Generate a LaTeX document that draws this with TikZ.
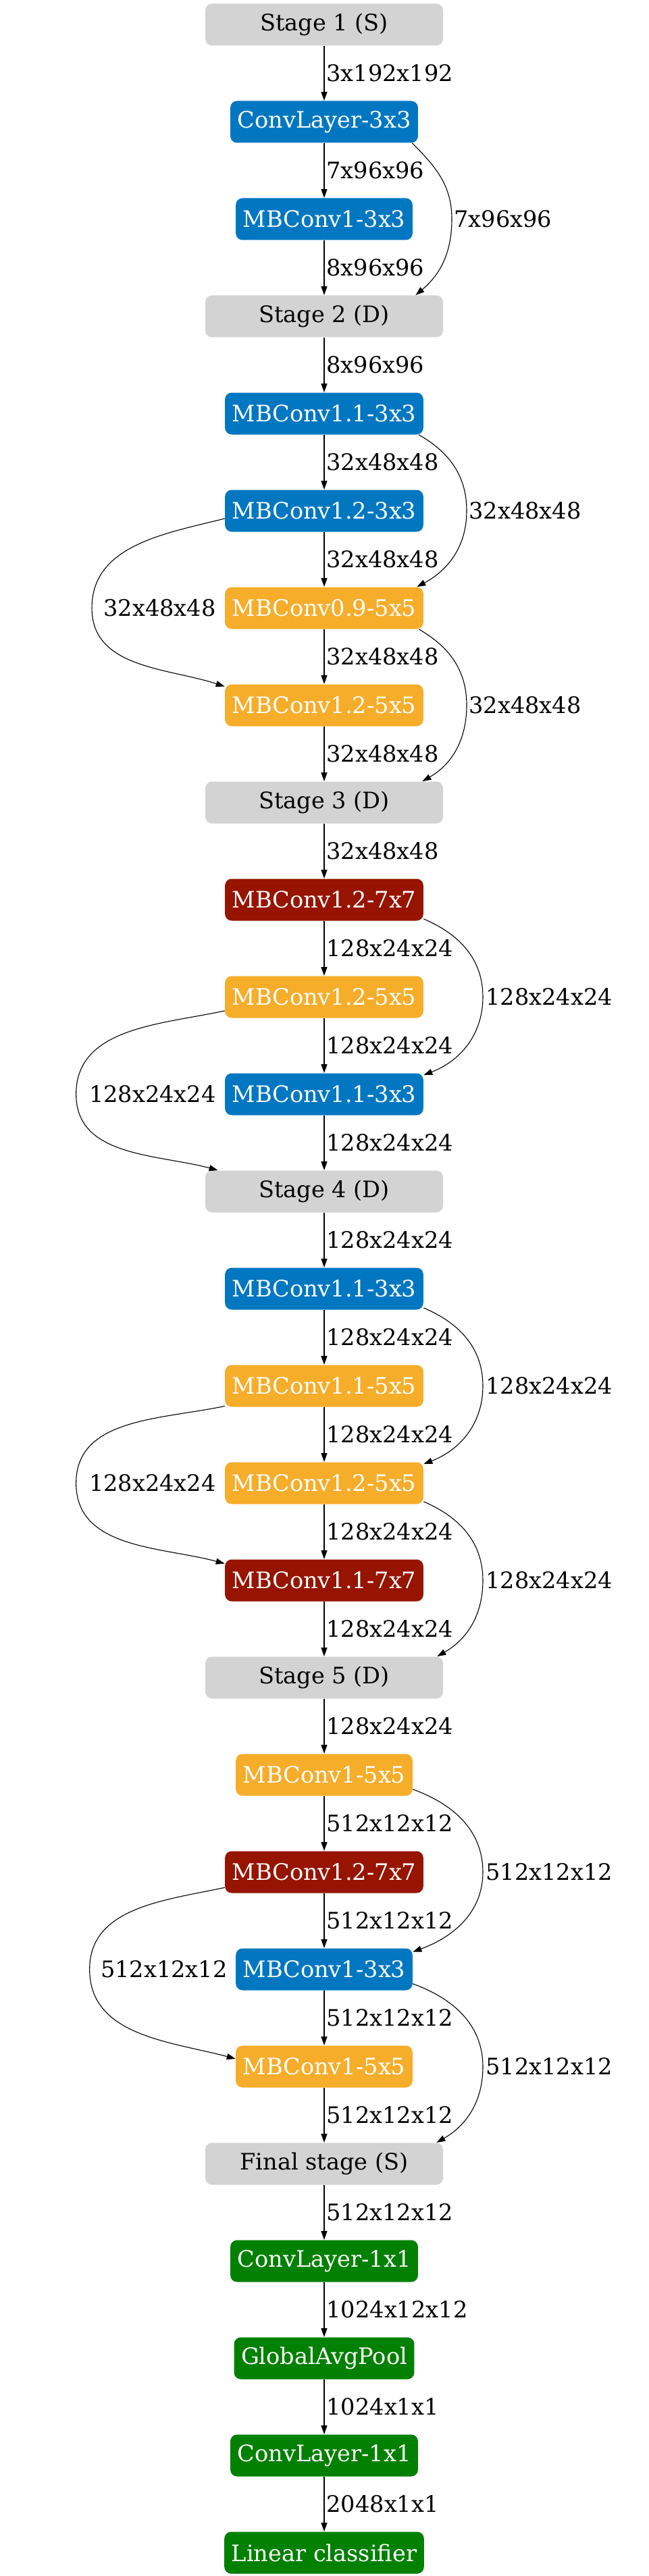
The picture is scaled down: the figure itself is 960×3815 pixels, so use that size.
\documentclass[tikz,border=0pt]{standalone}
\usepackage{fontspec}
\setmainfont{DejaVu Serif}
\usetikzlibrary{arrows.meta}
\definecolor{cblue}{HTML}{0277C1}
\definecolor{corange}{HTML}{F6AD2A}
\definecolor{cred}{HTML}{961400}
\definecolor{cgreen}{HTML}{028002}
\definecolor{cgray}{HTML}{D3D3D3}
\begin{document}
\begin{tikzpicture}[x=0.5pt,y=0.5pt,
  every node/.style={font=\fontsize{16.8pt}{20pt}\selectfont},
  box/.style={rounded corners=5pt, minimum height=31pt, inner xsep=5.25pt, inner ysep=0pt, text=white},
  stagebox/.style={box, fill=cgray, text=black, minimum width=176pt},
  bluebox/.style={box, fill=cblue},
  orangebox/.style={box, fill=corange},
  redbox/.style={box, fill=cred},
  greenbox/.style={box, fill=cgreen},
  arr/.style={-{Triangle[length=6.5pt,width=4.5pt]}, line width=0.55pt},
  vl/.style={midway, right, inner sep=0pt, xshift=1.5pt},
  lbl/.style={inner sep=0pt}]
\useasboundingbox (0,0) rectangle (960,-3815);

\node[stagebox] (n0) at (480,-36.5) {Stage 1 (S)};
\node[bluebox] (n1) at (480,-180.5) {ConvLayer-3x3};
\node[bluebox] (n2) at (480,-324.5) {MBConv1-3x3};
\node[stagebox] (n3) at (480,-468.5) {Stage 2 (D)};
\node[bluebox] (n4) at (480,-612.5) {MBConv1.1-3x3};
\node[bluebox] (n5) at (480,-756.5) {MBConv1.2-3x3};
\node[orangebox] (n6) at (480,-900.5) {MBConv0.9-5x5};
\node[orangebox] (n7) at (480,-1044.5) {MBConv1.2-5x5};
\node[stagebox] (n8) at (480,-1188.5) {Stage 3 (D)};
\node[redbox] (n9) at (480,-1332.5) {MBConv1.2-7x7};
\node[orangebox] (n10) at (480,-1476.5) {MBConv1.2-5x5};
\node[bluebox] (n11) at (480,-1620.5) {MBConv1.1-3x3};
\node[stagebox] (n12) at (480,-1764.5) {Stage 4 (D)};
\node[bluebox] (n13) at (480,-1908.5) {MBConv1.1-3x3};
\node[orangebox] (n14) at (480,-2052.5) {MBConv1.1-5x5};
\node[orangebox] (n15) at (480,-2196.5) {MBConv1.2-5x5};
\node[redbox] (n16) at (480,-2340.5) {MBConv1.1-7x7};
\node[stagebox] (n17) at (480,-2484.5) {Stage 5 (D)};
\node[orangebox] (n18) at (480,-2628.5) {MBConv1-5x5};
\node[redbox] (n19) at (480,-2772.5) {MBConv1.2-7x7};
\node[bluebox] (n20) at (480,-2916.5) {MBConv1-3x3};
\node[orangebox] (n21) at (480,-3060.5) {MBConv1-5x5};
\node[stagebox] (n22) at (480,-3204.5) {Final stage (S)};
\node[greenbox] (n23) at (480,-3348.5) {ConvLayer-1x1};
\node[greenbox] (n24) at (480,-3492.5) {GlobalAvgPool};
\node[greenbox] (n25) at (480,-3636.5) {ConvLayer-1x1};
\node[greenbox] (n26) at (480,-3780.5) {Linear classifier};

% straight edges
\draw[arr] (n0) -- node[vl]{3x192x192} (n1);
\draw[arr] (n1) -- node[vl]{7x96x96} (n2);
\draw[arr] (n2) -- node[vl]{8x96x96} (n3);
\draw[arr] (n3) -- node[vl]{8x96x96} (n4);
\draw[arr] (n4) -- node[vl]{32x48x48} (n5);
\draw[arr] (n5) -- node[vl]{32x48x48} (n6);
\draw[arr] (n6) -- node[vl]{32x48x48} (n7);
\draw[arr] (n7) -- node[vl]{32x48x48} (n8);
\draw[arr] (n8) -- node[vl]{32x48x48} (n9);
\draw[arr] (n9) -- node[vl]{128x24x24} (n10);
\draw[arr] (n10) -- node[vl]{128x24x24} (n11);
\draw[arr] (n11) -- node[vl]{128x24x24} (n12);
\draw[arr] (n12) -- node[vl]{128x24x24} (n13);
\draw[arr] (n13) -- node[vl]{128x24x24} (n14);
\draw[arr] (n14) -- node[vl]{128x24x24} (n15);
\draw[arr] (n15) -- node[vl]{128x24x24} (n16);
\draw[arr] (n16) -- node[vl]{128x24x24} (n17);
\draw[arr] (n17) -- node[vl]{128x24x24} (n18);
\draw[arr] (n18) -- node[vl]{512x12x12} (n19);
\draw[arr] (n19) -- node[vl]{512x12x12} (n20);
\draw[arr] (n20) -- node[vl]{512x12x12} (n21);
\draw[arr] (n21) -- node[vl]{512x12x12} (n22);
\draw[arr] (n22) -- node[vl]{512x12x12} (n23);
\draw[arr] (n23) -- node[vl]{1024x12x12} (n24);
\draw[arr] (n24) -- node[vl]{1024x1x1} (n25);
\draw[arr] (n25) -- node[vl]{2048x1x1} (n26);

% right skip labels
\node[lbl, anchor=west] (r13) at (672,-324.5) {7x96x96};
\node[lbl, anchor=west] (r46) at (694,-756.5) {32x48x48};
\node[lbl, anchor=west] (r68) at (694,-1044.5) {32x48x48};
\node[lbl, anchor=west] (r911) at (719,-1476.5) {128x24x24};
\node[lbl, anchor=west] (r1315) at (719,-2052.5) {128x24x24};
\node[lbl, anchor=west] (r1517) at (719,-2340.5) {128x24x24};
\node[lbl, anchor=west] (r1820) at (719,-2772.5) {512x12x12};
\node[lbl, anchor=west] (r2022) at (719,-3060.5) {512x12x12};

% left skip labels
\node[lbl, anchor=east] (l57) at (320,-900.5) {32x48x48};
\node[lbl, anchor=east] (l1012) at (320,-1620.5) {128x24x24};
\node[lbl, anchor=east] (l1416) at (320,-2196.5) {128x24x24};
\node[lbl, anchor=east] (l1921) at (337,-2916.5) {512x12x12};

% right skip edges
\draw[arr] ([xshift=-4.5pt]n1.south east) to[out=-45,in=90] ([xshift=-1.5pt]r13.west) to[out=-90,in=40] ([xshift=-20.5pt]n3.north east);
\draw[arr] ([xshift=-3.5pt]n4.south east) to[out=-30,in=90] ([xshift=-1.5pt]r46.west) to[out=-90,in=28] ([xshift=-5pt]n6.north east);
\draw[arr] ([xshift=-3.5pt]n6.south east) to[out=-30,in=90] ([xshift=-1.5pt]r68.west) to[out=-90,in=30] ([xshift=-15.5pt]n8.north east);
\draw[arr] ([yshift=1.5pt]n9.south east) to[out=-23,in=90] ([xshift=-2pt]r911.west) to[out=-90,in=21] ([yshift=-1.5pt]n11.north east);
\draw[arr] ([yshift=1.5pt]n13.south east) to[out=-23,in=90] ([xshift=-2pt]r1315.west) to[out=-90,in=21] ([yshift=-1.5pt]n15.north east);
\draw[arr] ([yshift=2pt]n15.south east) to[out=-23,in=90] ([xshift=-2pt]r1517.west) to[out=-90,in=30] ([xshift=-4.5pt]n17.north east);
\draw[arr] ([yshift=5pt]n18.south east) to[out=-20,in=90] ([xshift=-2pt]r1820.west) to[out=-90,in=20] ([yshift=-2.75pt]n20.north east);
\draw[arr] ([yshift=5pt]n20.south east) to[out=-20,in=90] ([xshift=-2pt]r2022.west) to[out=-90,in=30] ([xshift=-5pt]n22.north east);

% left skip edges
\draw[arr] ([yshift=-5.75pt]n5.west) to[out=194,in=90] ([xshift=-8.5pt]l57.west) to[out=-90,in=162] ([yshift=-1.75pt]n7.north west);
\draw[arr] ([yshift=-10.25pt]n10.west) to[out=192,in=90] ([xshift=-9.5pt]l1012.west) to[out=-90,in=165] ([xshift=9.5pt]n12.north west);
\draw[arr] ([yshift=0.75pt]n14.south west) to[out=192,in=90] ([xshift=-9.5pt]l1416.west) to[out=-90,in=165] ([yshift=-3.25pt]n16.north west);
\draw[arr] ([yshift=4.25pt]n19.south west) to[out=192,in=90] ([xshift=-8pt]l1921.west) to[out=-90,in=165] ([yshift=5.75pt]n21.west);
\end{tikzpicture}
\end{document}
